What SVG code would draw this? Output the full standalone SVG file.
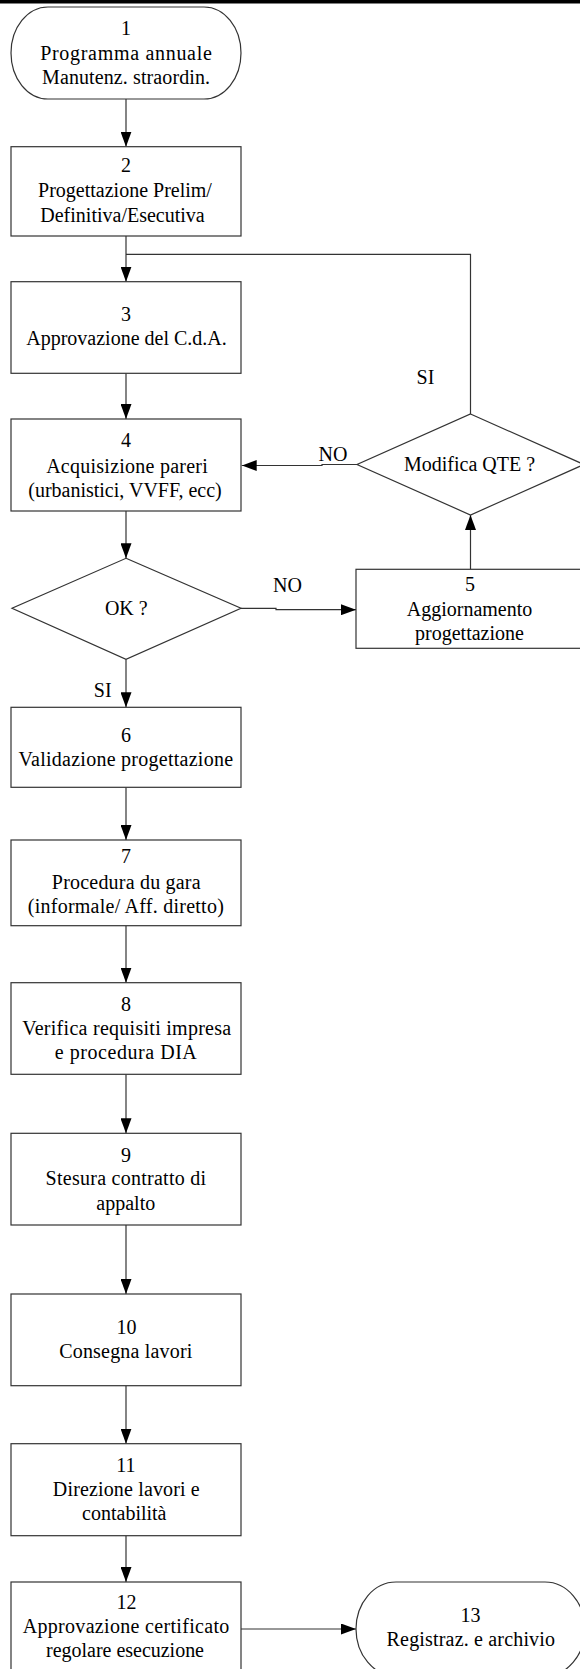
<svg xmlns="http://www.w3.org/2000/svg" width="580" height="1669" viewBox="0 0 580 1669">
<defs>
<marker id="ah" markerUnits="userSpaceOnUse" markerWidth="15" markerHeight="11" refX="15" refY="5.5" orient="auto">
<path d="M0,0 L15,5.5 L0,11 z" fill="#000"/>
</marker>
<style>
.box{fill:#fff;stroke:#333;stroke-width:1.2}
.t{font-family:"Liberation Serif","Times New Roman",serif;font-size:20px;fill:#000;text-anchor:middle}
.c{fill:none;stroke:#333;stroke-width:1.2}
.a{marker-end:url(#ah)}
</style>
</defs>
<rect x="0" y="0" width="580" height="3.5" fill="#000"/>
<g id="connectors">
<path class="c a" d="M126,99 V146.7"/>
<path class="c a" d="M126,236 V281.7"/>
<path class="c" d="M470.5,414 V254.3 H126"/>
<path class="c a" d="M126,373.3 V419"/>
<path class="c a" d="M126,511 V558.3"/>
<path class="c a" d="M241,608.3 H276 V609.7 H356"/>
<path class="c a" d="M470.5,569.3 V515"/>
<path class="c a" d="M357,464.5 H322 V465.5 H241.7"/>
<path class="c a" d="M126,659.3 V707.3"/>
<path class="c a" d="M126,787.3 V840"/>
<path class="c a" d="M126,925.7 V982.7"/>
<path class="c a" d="M126,1074.3 V1133.3"/>
<path class="c a" d="M126,1225 V1294"/>
<path class="c a" d="M126,1385.7 V1443.7"/>
<path class="c a" d="M126,1535.7 V1582"/>
<path class="c a" d="M241,1629 H356"/>
<text class="t" x="425.5" y="384">SI</text>
<text class="t" x="333" y="460.7">NO</text>
<text class="t" x="287.5" y="591.7">NO</text>
<text class="t" x="102.7" y="697.3">SI</text>
</g>
<g id="n1">
<rect class="box" x="11" y="7" width="230" height="92" rx="37" ry="46"/>
<text class="t" x="126" y="35">1</text>
<text class="t" x="126" y="59.5" textLength="171.6" lengthAdjust="spacing">Programma annuale</text>
<text class="t" x="126" y="84" textLength="168" lengthAdjust="spacing">Manutenz. straordin.</text>
</g>
<g id="n2">
<rect class="box" x="11" y="146.7" width="230" height="89.3"/>
<text class="t" x="126" y="171.7">2</text>
<text class="t" x="125" y="196.7">Progettazione Prelim/</text>
<text class="t" x="122.5" y="221.7">Definitiva/Esecutiva</text>
</g>
<g id="n3">
<rect class="box" x="11" y="281.7" width="230" height="91.6"/>
<text class="t" x="126" y="321">3</text>
<text class="t" x="126.5" y="345">Approvazione del C.d.A.</text>
</g>
<g id="n4">
<rect class="box" x="11" y="419" width="230" height="92"/>
<text class="t" x="126" y="447.3">4</text>
<text class="t" x="127" y="472.5" textLength="161.7" lengthAdjust="spacing">Acquisizione pareri</text>
<text class="t" x="125" y="496.5">(urbanistici, VVFF, ecc)</text>
</g>
<g id="d1">
<polygon class="box" points="470.5,414 584,464.5 470.5,515 357,464.5"/>
<text class="t" x="469.5" y="471">Modifica QTE ?</text>
</g>
<g id="d2">
<polygon class="box" points="126,558.3 241,608.3 126,659.3 12,608.3"/>
<text class="t" x="126.3" y="615">OK ?</text>
</g>
<g id="n5">
<rect class="box" x="356" y="569.3" width="229" height="79"/>
<text class="t" x="470" y="590.7">5</text>
<text class="t" x="469.5" y="615.5">Aggiornamento</text>
<text class="t" x="469.5" y="639.5">progettazione</text>
</g>
<g id="n6">
<rect class="box" x="11" y="707.3" width="230" height="80"/>
<text class="t" x="126" y="741.7">6</text>
<text class="t" x="125.8" y="766" textLength="214.6" lengthAdjust="spacing">Validazione progettazione</text>
</g>
<g id="n7">
<rect class="box" x="11" y="840" width="230" height="85.7"/>
<text class="t" x="126" y="863.3">7</text>
<text class="t" x="126.2" y="888.5" textLength="148.7" lengthAdjust="spacing">Procedura du gara</text>
<text class="t" x="125.8" y="912.7" textLength="196" lengthAdjust="spacing">(informale/ Aff. diretto)</text>
</g>
<g id="n8">
<rect class="box" x="11" y="982.7" width="230" height="91.6"/>
<text class="t" x="126" y="1010.5">8</text>
<text class="t" x="126.7" y="1035" textLength="209" lengthAdjust="spacing">Verifica requisiti impresa</text>
<text class="t" x="125.8" y="1059" textLength="142" lengthAdjust="spacing">e procedura DIA</text>
</g>
<g id="n9">
<rect class="box" x="11" y="1133.3" width="230" height="91.7"/>
<text class="t" x="126" y="1161.5">9</text>
<text class="t" x="125.8" y="1185" textLength="160.5" lengthAdjust="spacing">Stesura contratto di</text>
<text class="t" x="125.8" y="1209.5">appalto</text>
</g>
<g id="n10">
<rect class="box" x="11" y="1294" width="230" height="91.7"/>
<text class="t" x="126.5" y="1334">10</text>
<text class="t" x="125.8" y="1358" textLength="133.2" lengthAdjust="spacing">Consegna lavori</text>
</g>
<g id="n11">
<rect class="box" x="11" y="1443.7" width="230" height="92"/>
<text class="t" x="126" y="1471.5">11</text>
<text class="t" x="126.3" y="1496" textLength="146.9" lengthAdjust="spacing">Direzione lavori e</text>
<text class="t" x="124.3" y="1520">contabilità</text>
</g>
<g id="n12">
<rect class="box" x="11" y="1582" width="230" height="94"/>
<text class="t" x="126.5" y="1609.3">12</text>
<text class="t" x="126" y="1633" textLength="206.7" lengthAdjust="spacing">Approvazione certificato</text>
<text class="t" x="125" y="1657" textLength="158" lengthAdjust="spacing">regolare esecuzione</text>
</g>
<g id="n13">
<rect class="box" x="356" y="1582" width="229" height="94" rx="40" ry="47"/>
<text class="t" x="470.5" y="1622">13</text>
<text class="t" x="470.8" y="1646" textLength="168.4" lengthAdjust="spacing">Registraz. e archivio</text>
</g>
</svg>
